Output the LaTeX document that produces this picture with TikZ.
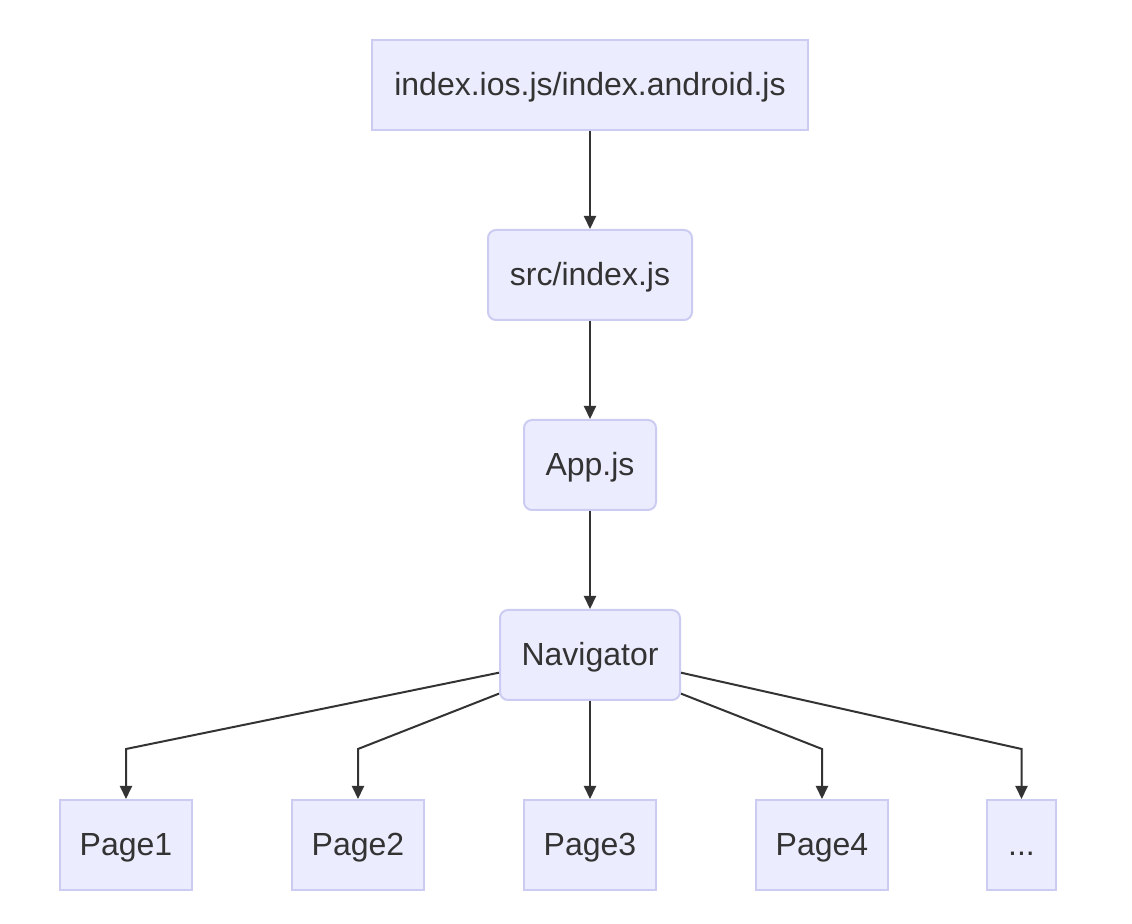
\documentclass[tikz,border=0pt]{standalone}
\usepackage{fontspec}
\setmainfont{Liberation Sans}
\usetikzlibrary{arrows.meta}
\definecolor{boxfill}{HTML}{ECECFF}
\definecolor{boxline}{HTML}{CCCCF2}
\definecolor{ink}{HTML}{333333}
\begin{document}
\begin{tikzpicture}[x=.5pt,y=-.5pt,>={Triangle[length=6.5pt,width=6pt]},
  box/.style={draw=boxline,fill=boxfill,line width=1pt,minimum height=45pt,inner sep=0pt,text height=12.5pt,text depth=1.5pt,text=ink,font=\fontsize{16}{19}\selectfont},
  rbox/.style={box,rounded corners=4pt},link/.style={->,draw=ink,line width=1pt}]
\useasboundingbox (0,0) rectangle (1132,924);
\node[box,minimum width=218pt] (entry) at (590,85){index.ios.js/index.android.js};
\node[rbox,minimum width=102pt] (src) at (590,275){src/index.js};
\node[rbox,minimum width=66pt] (app) at (590,465){App.js};
\node[rbox,minimum width=90pt] (nav) at (590,655){Navigator};
\node[box,minimum width=66pt] (p1) at (126,845){Page1};\node[box,minimum width=66pt] (p2) at (358,845){Page2};
\node[box,minimum width=66pt] (p3) at (590,845){Page3};\node[box,minimum width=66pt] (p4) at (822,845){Page4};
\node[box,minimum width=34.5pt] (more) at (1021.5,845){.{}.{}.};
\coordinate (fork) at (590,749);
\draw[link] (entry)--(src);\draw[link] (src)--(app);\draw[link] (app)--(nav);
\draw[link] (nav.191)--(fork -| p1)--(p1);\draw[link] (nav.203)--(fork -| p2)--(p2);
\draw[link] (nav)--(p3);
\draw[link] (nav.-23)--(fork -| p4)--(p4);\draw[link] (nav.-11)--(fork -| more)--(more);
\end{tikzpicture}
\end{document}
